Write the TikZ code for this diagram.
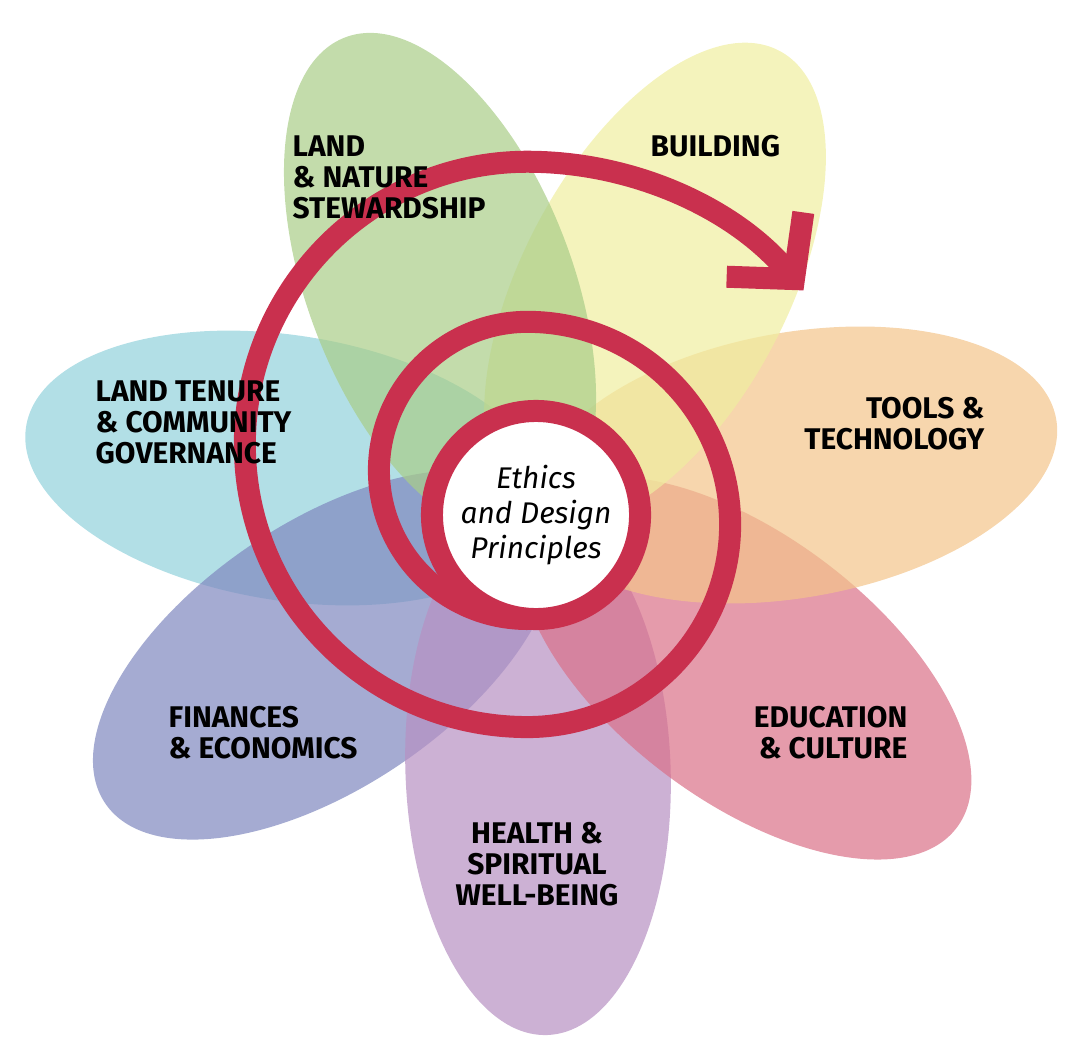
\documentclass[tikz,border=0pt]{standalone}
\usepackage{fontspec}
\setmainfont{Fira Sans}
\usetikzlibrary{arrows.meta,shapes.geometric}
\definecolor{leafgreen}{HTML}{A9CD88}
\definecolor{leafyellow}{HTML}{F0EEA0}
\definecolor{leaforange}{HTML}{F3C48A}
\definecolor{leafpink}{HTML}{DA7088}
\definecolor{leafpurple}{HTML}{B690C2}
\definecolor{leafviolet}{HTML}{7F88BF}
\definecolor{leafcyan}{HTML}{92D2DC}
\definecolor{spiralred}{HTML}{C9304E}
\begin{document}
\begin{tikzpicture}[x=0.01cm,y=-0.01cm,
leaf/.style={ellipse,fill opacity=0.7,minimum width=5.3cm,minimum height=2.65cm,inner sep=0pt},
area/.style={font=\fontsize{8.5}{8.8}\selectfont\bfseries,inner sep=0pt},
edge/.style={line width=0.22cm,color=spiralred,line cap=round,line join=round}]
\useasboundingbox (0,0) rectangle (1068,1052);

% petals
\node[leaf,fill=leafcyan,rotate=171] at (288,468) {};
\node[leaf,fill=leafviolet,rotate=214] at (325,655) {};
\node[leaf,fill=leafpurple,rotate=-88] at (538,770) {};
\node[leaf,fill=leafpink,rotate=-37] at (745,668) {};
\node[leaf,fill=leaforange,rotate=10] at (795,465) {};
\node[leaf,fill=leafyellow,rotate=62] at (655,285) {};
\node[leaf,fill=leafgreen,rotate=111] at (440,285) {};

% spiral
\node[circle,draw=spiralred,line width=0.22cm,fill=white,minimum size=2.08cm,inner sep=0pt] (ring) at (536,515) {};
\coordinate (start) at (527.5,619);
\draw[edge,-{Straight Barb[length=4.5mm,width=10mm]}] (start)
  arc[start angle=270,end angle=90,radius=1.485cm]
  arc[start angle=90,end angle=-90,radius=2.025cm]
  arc[start angle=270,end angle=90,radius=2.825cm]
  arc[start angle=90,end angle=40,radius=3.6cm];
\node[circle,fill=white,minimum size=1.8cm,inner sep=0pt,align=center,
  font=\fontsize{8.5}{10}\selectfont\itshape] (core) at (536,515) {Ethics\\and Design\\Principles};

% labels
\node[area,anchor=north west,align=left] (land) at (292,135) {LAND\\\& NATURE\\STEWARDSHIP};
\node[area,anchor=north west] (build) at (650,135) {BUILDING};
\node[area,anchor=north east,align=right] (tools) at (985,397) {TOOLS \&\\TECHNOLOGY};
\node[area,anchor=north west,align=left] (tenure) at (95,380) {LAND TENURE\\\& COMMUNITY\\GOVERNANCE};
\node[area,anchor=north west,align=left] (finance) at (168,706) {FINANCES\\\& ECONOMICS};
\node[area,anchor=north east,align=right] (edu) at (908,706) {EDUCATION\\\& CULTURE};
\node[area,anchor=north,align=center] (health) at (537,822) {HEALTH \&\\SPIRITUAL\\WELL-BEING};
\end{tikzpicture}
\end{document}
